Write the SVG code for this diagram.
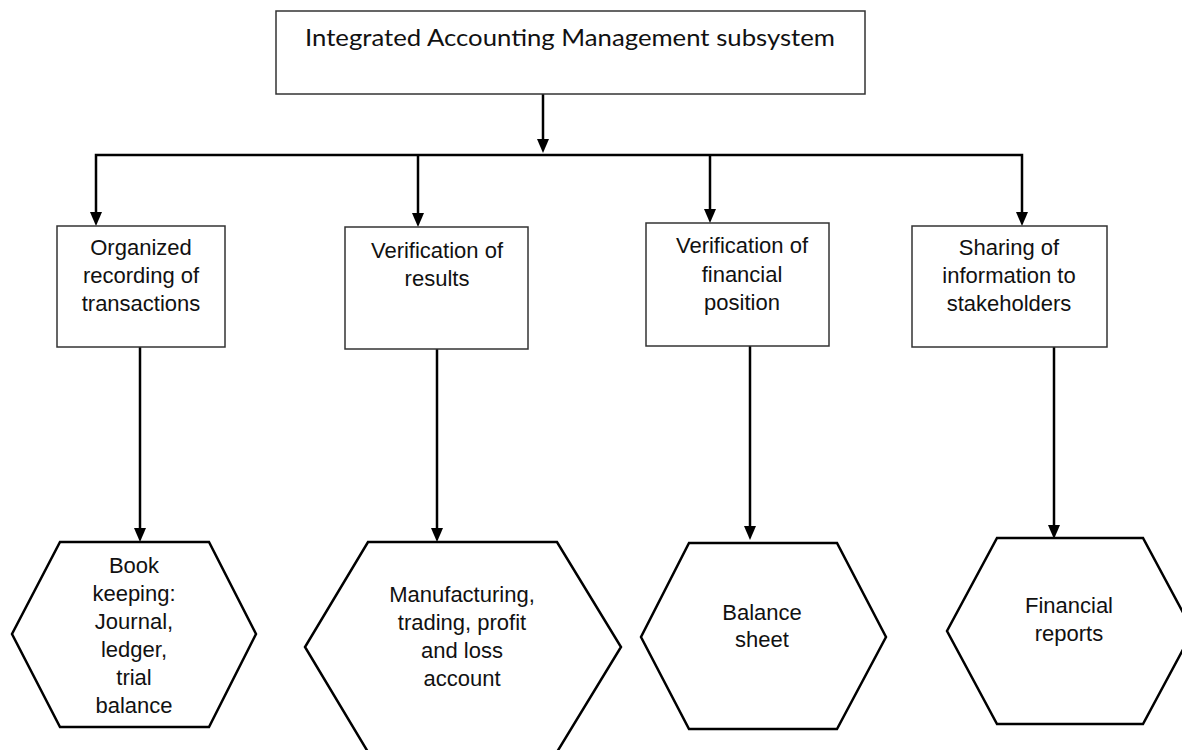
<svg xmlns="http://www.w3.org/2000/svg" width="1182" height="750" viewBox="0 0 1182 750">
  <defs>
    <marker id="ah" viewBox="0 0 14 12" markerWidth="14" markerHeight="12" refX="4" refY="6" orient="auto-start-reverse" markerUnits="userSpaceOnUse">
      <path d="M0,0 L14,6 L0,12 Z" fill="#000"/>
    </marker>
    <style>
      .box { fill: #fff; stroke: #333; stroke-width: 1.5; }
      .hex { fill: #fff; stroke: #000; stroke-width: 2.5; stroke-linejoin: miter; }
      .conn { fill: none; stroke: #000; stroke-width: 2.5; }
      .lbl { font-family: "Liberation Sans", Arial, sans-serif; font-size: 22px; fill: #111; text-anchor: middle; }
      .title { font-family: Lato, "Open Sans", sans-serif; font-size: 24px; fill: #111; }
    </style>
  </defs>
  <rect width="1182" height="750" fill="#fff"/>

  <!-- connectors -->
  <g id="connectors">
    <path class="conn" d="M543,94 V143" marker-end="url(#ah)"/>
    <path class="conn" d="M96,216 V155 H1022 V216" marker-start="url(#ah)" marker-end="url(#ah)"/>
    <path class="conn" d="M418,155 V217" marker-end="url(#ah)"/>
    <path class="conn" d="M710,155 V213" marker-end="url(#ah)"/>
    <path class="conn" d="M140,347 V532" marker-end="url(#ah)"/>
    <path class="conn" d="M437,349 V532" marker-end="url(#ah)"/>
    <path class="conn" d="M750,346 V530" marker-end="url(#ah)"/>
    <path class="conn" d="M1054,347 V529" marker-end="url(#ah)"/>
  </g>

  <!-- root -->
  <g id="root">
    <rect class="box" x="276" y="11" width="589" height="83"/>
    <text class="title" x="305" y="46" textLength="530" lengthAdjust="spacingAndGlyphs">Integrated Accounting Management subsystem</text>
  </g>

  <!-- second level -->
  <g id="recording">
    <rect class="box" x="57" y="226" width="168" height="121"/>
    <text class="lbl"><tspan x="141" y="255">Organized</tspan><tspan x="141" y="283">recording of</tspan><tspan x="141" y="311">transactions</tspan></text>
  </g>
  <g id="results">
    <rect class="box" x="345" y="227" width="183" height="122"/>
    <text class="lbl"><tspan x="437" y="258">Verification of</tspan><tspan x="437" y="286">results</tspan></text>
  </g>
  <g id="position">
    <rect class="box" x="646" y="223" width="183" height="123"/>
    <text class="lbl"><tspan x="742" y="253">Verification of</tspan><tspan x="742" y="282">financial</tspan><tspan x="742" y="310">position</tspan></text>
  </g>
  <g id="sharing">
    <rect class="box" x="912" y="226" width="195" height="121"/>
    <text class="lbl"><tspan x="1009" y="255">Sharing of</tspan><tspan x="1009" y="283">information to</tspan><tspan x="1009" y="311">stakeholders</tspan></text>
  </g>

  <!-- outputs -->
  <g id="bookkeeping">
    <polygon class="hex" points="60,542 209,542 256,634 209,727 60,727 12,634"/>
    <text class="lbl"><tspan x="134" y="573">Book</tspan><tspan x="134" y="601">keeping:</tspan><tspan x="134" y="629">Journal,</tspan><tspan x="134" y="657">ledger,</tspan><tspan x="134" y="685">trial</tspan><tspan x="134" y="713">balance</tspan></text>
  </g>
  <g id="accounts">
    <polygon class="hex" points="368,542 557,542 621,647 557,752 368,752 305,647"/>
    <text class="lbl"><tspan x="462" y="602">Manufacturing,</tspan><tspan x="462" y="630">trading, profit</tspan><tspan x="462" y="658">and loss</tspan><tspan x="462" y="686">account</tspan></text>
  </g>
  <g id="balance-sheet">
    <polygon class="hex" points="689,543 837,543 886,637 837,729 689,729 641,637"/>
    <text class="lbl"><tspan x="762" y="620">Balance</tspan><tspan x="762" y="647">sheet</tspan></text>
  </g>
  <g id="reports">
    <polygon class="hex" points="997,538 1143,538 1193,631 1143,724 997,724 947,631"/>
    <text class="lbl"><tspan x="1069" y="613">Financial</tspan><tspan x="1069" y="641">reports</tspan></text>
  </g>
</svg>
